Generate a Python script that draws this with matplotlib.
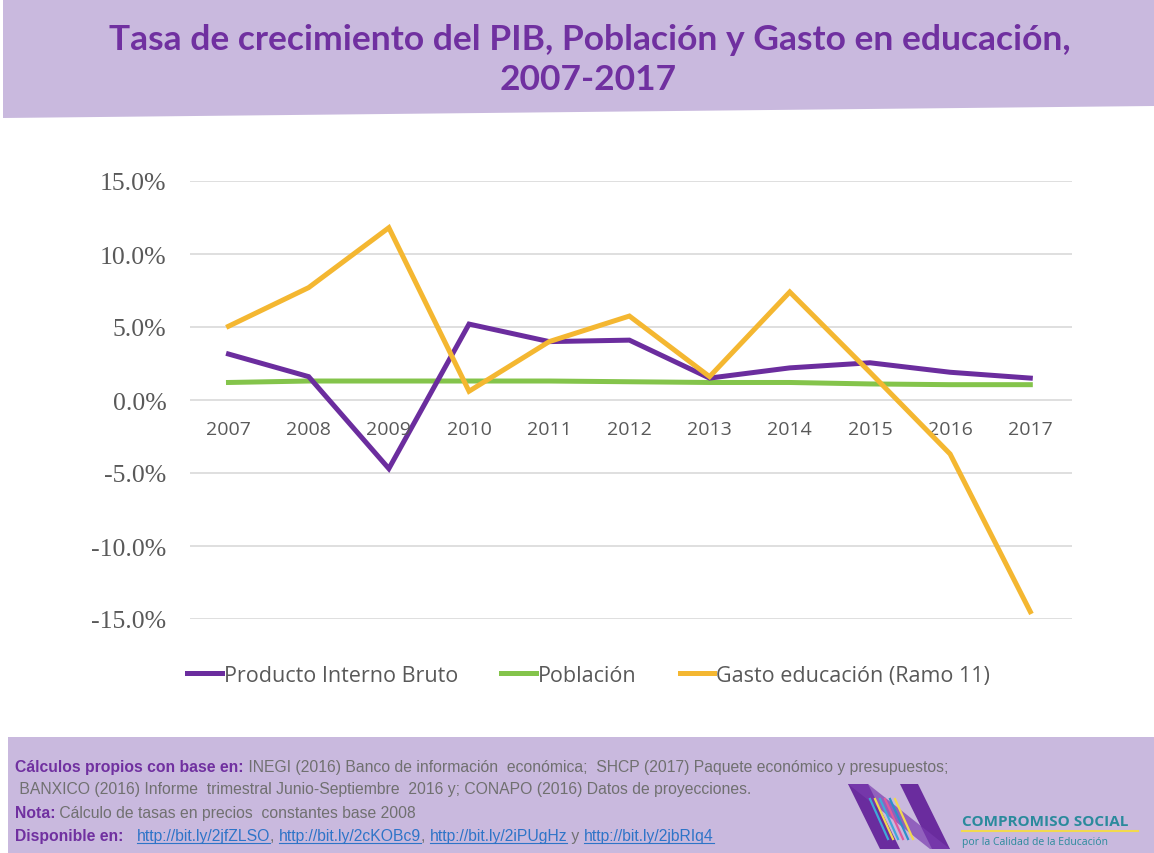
import matplotlib
matplotlib.use("Agg")
import matplotlib.pyplot as plt
from matplotlib.patches import Polygon, Rectangle
from matplotlib.lines import Line2D

# datos (porcentajes)
anios = ["2007", "2008", "2009", "2010", "2011", "2012", "2013", "2014", "2015", "2016", "2017"]
pib = [3.15, 1.6, -4.7, 5.2, 4.0, 4.1, 1.5, 2.2, 2.55, 1.9, 1.5]
poblacion = [1.2, 1.3, 1.3, 1.3, 1.3, 1.25, 1.2, 1.2, 1.1, 1.05, 1.05]
gasto_educacion = [5.05, 7.7, 11.8, 0.6, 4.0, 5.75, 1.6, 7.4, 1.9, -3.7, -14.5]

etiquetas = ["Producto Interno Bruto", "Población", "Gasto educación (Ramo 11)"]
colores = ["#6B2D9E", "#84C44B", "#F4B731"]
morado_claro = "#C9B9DE"
morado_texto = "#7030A0"
gris = "#595959"

W, H = 1154, 854
fig = plt.figure(figsize=(W / 100, H / 100), dpi=100)
fig.patch.set_facecolor("white")

# banda del titulo (borde inferior inclinado)
fig.patches.append(Polygon([(3 / W, 1), (1, 1), (1, 1 - 107 / H), (3 / W, 1 - 119 / H)],
                           closed=True, transform=fig.transFigure, facecolor=morado_claro,
                           edgecolor="none", zorder=0))
fig.text(590 / W, 1 - 40 / H, "Tasa de crecimiento del PIB, Población y Gasto en educación,",
         ha="center", va="center", fontsize=25.5, fontweight="bold", color=morado_texto,
         family="Lato")
fig.text(588 / W, 1 - 80 / H, "2007-2017", ha="center", va="center", fontsize=25.5,
         fontweight="bold", color=morado_texto, family="Lato")

# area del grafico
ax = fig.add_axes([190 / W, 1 - 620 / H, (1072 - 190) / W, (620 - 182) / H])
x = list(range(len(anios)))
ax.plot(x, pib, color=colores[0], lw=3.6, label=etiquetas[0], solid_joinstyle="miter", zorder=3)
ax.plot(x, poblacion, color=colores[1], lw=3.6, label=etiquetas[1], zorder=2)
ax.plot(x, gasto_educacion, color=colores[2], lw=3.6, label=etiquetas[2],
        solid_joinstyle="miter", zorder=4)

ax.set_xlim(-0.48, 10.52)
ax.set_ylim(-15, 15)
ax.set_yticks([15, 10, 5, 0, -5, -10, -15])
ax.set_yticklabels(["15.0%", "10.0%", "5.0%", "0.0%", "-5.0%", "-10.0%", "-15.0%"],
                   family="Liberation Serif", fontsize=18.5, color=gris)
ax.tick_params(axis="y", length=0, pad=17)
ax.grid(axis="y", color="#D9D9D9", lw=1.2)
ax.set_axisbelow(True)
for s in ax.spines.values():
    s.set_visible(False)

ax.set_xticks([])
for i, a in enumerate(anios):
    ax.annotate(a, (i, 0), xytext=(0, -29), textcoords="offset pixels", ha="center",
                va="center", fontsize=14, color=gris, family="Open Sans")

ax.legend(loc="upper center", bbox_to_anchor=(0.452, -0.06), ncol=3, frameon=False,
          labelcolor=gris, handlelength=1.6, handletextpad=0.1,
          columnspacing=2.0, prop={"family": "Open Sans", "size": 15.5})

# banda inferior con fuentes
fig.patches.append(Rectangle((8 / W, 0), 1, 116 / H, transform=fig.transFigure,
                             facecolor=morado_claro, edgecolor="none", zorder=0))

fig.canvas.draw()
renderer = fig.canvas.get_renderer()
fuente_pie = ["Liberation Sans", "DejaVu Sans"]


def escribir(x0, y0, partes):
    xx = x0
    for texto, estilo in partes:
        if estilo == "b":
            t = fig.text(xx / W, 1 - y0 / H, texto, fontsize=11.3, fontweight="bold",
                         color=morado_texto, va="center", family=fuente_pie)
        elif estilo == "l":
            t = fig.text(xx / W, 1 - y0 / H, texto, fontsize=11.3, color="#2E74C8",
                         va="center", family=fuente_pie)
        else:
            t = fig.text(xx / W, 1 - y0 / H, texto, fontsize=11.3, color="#707070",
                         va="center", family=fuente_pie)
        bb = t.get_window_extent(renderer)
        if estilo == "l":
            fig.lines.append(Line2D([bb.x0 / W, bb.x1 / W], [bb.y0 / H + 0.001, bb.y0 / H + 0.001],
                                    transform=fig.transFigure, color="#2E74C8", lw=0.8))
        xx = bb.x1


escribir(15, 768, [("Cálculos propios con base en:", "b"),
                   (" INEGI (2016) Banco de información  económica;  SHCP (2017) Paquete económico y presupuestos;", "n")])
escribir(15, 790, [(" BANXICO (2016) Informe  trimestral Junio-Septiembre  2016 y; CONAPO (2016) Datos de proyecciones.", "n")])
escribir(15, 814, [("Nota:", "b"), (" Cálculo de tasas en precios  constantes base 2008", "n")])
escribir(15, 837, [("Disponible en:", "b"), ("   ", "n"), ("http://bit.ly/2jfZLSO", "l"), (", ", "n"),
                   ("http://bit.ly/2cKOBc9", "l"), (", ", "n"), ("http://bit.ly/2iPUgHz", "l"),
                   (" y ", "n"), ("http://bit.ly/2jbRIq4", "l")])

# logo aproximado
def px(pts):
    return [(a / W, 1 - b / H) for a, b in pts]


fig.patches.append(Polygon(px([(848, 785), (868, 785), (900, 850), (880, 850)]),
                           transform=fig.transFigure, facecolor="#6A2C9E", edgecolor="none"))
fig.patches.append(Polygon(px([(900, 785), (918, 785), (950, 850), (932, 850)]),
                           transform=fig.transFigure, facecolor="#6A2C9E", edgecolor="none"))
fig.patches.append(Polygon(px([(848, 785), (868, 785), (950, 850), (930, 850)]),
                           transform=fig.transFigure, facecolor="#7A3CB0", edgecolor="none", alpha=0.7))
for k, c in enumerate(["#3FA9D8", "#F2D94E", "#3FA9D8", "#E05A9C", "#2E8FC9", "#F2D94E"]):
    x0 = 870 + k * 5
    fig.lines.append(Line2D([x0 / W, (x0 + 18) / W], [1 - 800 / H, 1 - 840 / H],
                            transform=fig.transFigure, color=c, lw=1.6))
fig.text(962 / W, 1 - 822 / H, "COMPROMISO SOCIAL", fontsize=11, fontweight="bold",
         color="#2A8A9C", va="center", family="Open Sans")
fig.lines.append(Line2D([962 / W, 1138 / W], [1 - 832 / H, 1 - 832 / H],
                        transform=fig.transFigure, color="#F2D94E", lw=1.5))
fig.text(962 / W, 1 - 843 / H, "por la Calidad de la Educación", fontsize=7.5,
         color="#2A8A9C", va="center", family="Open Sans")

fig.savefig("out.png", dpi=100, facecolor=fig.get_facecolor())
